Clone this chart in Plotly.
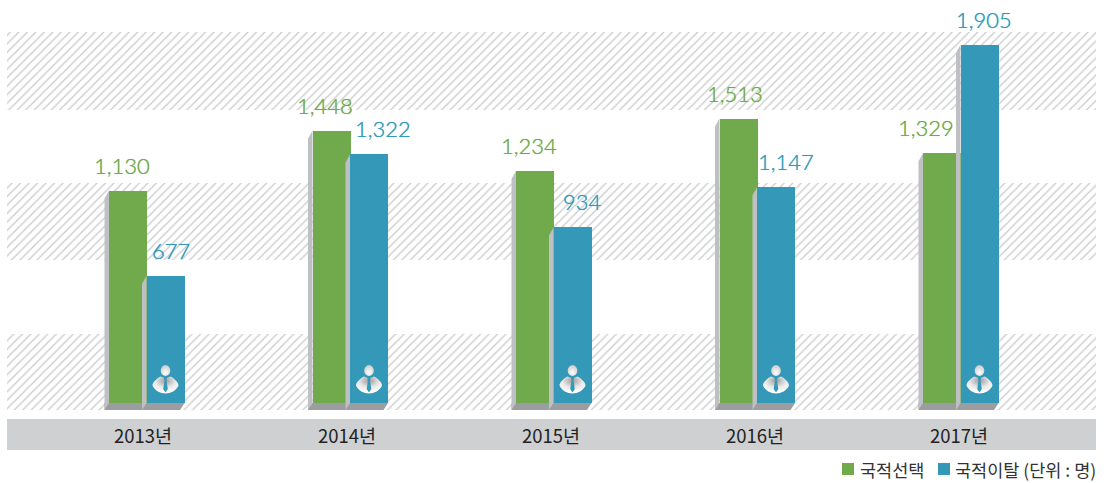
import base64
import plotly.graph_objects as go

years = ["2013년", "2014년", "2015년", "2016년", "2017년"]
selected = [1130, 1448, 1234, 1513, 1329]
renounced = [677, 1322, 934, 1147, 1905]
band_tops = [1973, 1170, 367]
band_bottoms = [1558, 761, -37]
legend_names = ["국적선택", "국적이탈 (단위 : 명)"]

GREEN, BLUE = "#70aa4c", "#3499b8"
SIDE, FLOOR = "#bfc0c4", "#9c9da1"
W, H = 1106, 483
PXX = 203.5            # pixels per category
PXY = 0.188            # pixels per person
X0 = 146.5             # pixel of first category
Y0 = 403               # pixel of zero
BOTTOM = 419           # pixel of plot bottom
idx = list(range(len(years)))
xr = [-X0 / PXX, (W - X0) / PXX]
yr = [-(BOTTOM - Y0) / PXY, Y0 / PXY]
bw = 38 / PXX
dx, dy, dc = 4.5 / PXX, 7 / PXY, 8 / PXY
tick_pos = [(143 + 204 * i - X0) / PXX for i in idx]

fig = go.Figure()
fig.add_bar(x=[2] * 3, y=[t - b for t, b in zip(band_tops, band_bottoms)], base=band_bottoms,
            width=1089 / PXX, offset=(7 - X0 - 2 * PXX) / PXX, showlegend=False, hoverinfo="skip",
            marker=dict(color="white", line_width=0,
                        pattern=dict(shape="/", size=6, solidity=0.2, fgcolor="#c8c9cb", bgcolor="white", fgopacity=1)))
fig.add_bar(x=idx, y=selected, name=legend_names[0], width=bw, offset=-37.5 / PXX,
            marker=dict(color=GREEN, line_width=0), showlegend=False)
fig.add_bar(x=idx, y=renounced, name=legend_names[1], width=bw, offset=0 / PXX,
            marker=dict(color=BLUE, line_width=0), showlegend=False)

def polys(values, off):
    sx, sy, fx, fy = [], [], [], []
    for i, v in zip(idx, values):
        l = i + off
        r = l + bw
        sx += [l, l - dx, l - dx, l, None]
        sy += [v, v - dc, -dy, 0, None]
        fx += [l - dx, r, r - dx, l - dx, None]
        fy += [0, 0, -dy, -dy, None]
    return sx, sy, fx, fy

for vals, off in ((selected, -37.5 / PXX), (renounced, 0 / PXX)):
    sx, sy, fx, fy = polys(vals, off)
    for px, py_, col in ((fx, fy, FLOOR), (sx, sy, SIDE)):
        fig.add_scatter(x=px, y=py_, mode="none", fill="toself", fillcolor=col,
                        showlegend=False, hoverinfo="skip")

svg = f'''<svg xmlns="http://www.w3.org/2000/svg" width="28" height="32" viewBox="0 0 28 32">
<defs><radialGradient id="g" cx="50%" cy="25%" r="70%"><stop offset="0" stop-color="#9b9b9b"/>
<stop offset="0.55" stop-color="#e8e8e8"/><stop offset="1" stop-color="#ffffff"/></radialGradient>
<radialGradient id="h" cx="50%" cy="70%" r="70%"><stop offset="0" stop-color="#ffffff"/><stop offset="1" stop-color="#c9c9c9"/></radialGradient></defs>
<ellipse cx="14" cy="6" rx="4.8" ry="5.4" fill="url(#h)"/>
<path d="M9 12 C5 14 1 18 1 21 C3 26 9 29 14 29 C19 29 25 26 27 21 C27 18 23 14 19 12 L14 14 Z" fill="url(#g)"/>
<path d="M12.3 13 L15.7 13 L15 16 L16.3 24.5 L14 28 L11.7 24.5 L13 16 Z" fill="{BLUE}"/></svg>'''
src = "data:image/svg+xml;base64," + base64.b64encode(svg.encode()).decode()
images = [dict(source=src, xref="x", yref="y", x=i + 19 / PXX, y=22.5 / PXY, sizex=28 / PXX, sizey=32 / PXY,
               xanchor="center", yanchor="middle", layer="above", sizing="stretch") for i in idx]

nudge_sel = [-6, -7, -6, -4, -16]
nudge_ren = [6, 14, 10, 10, 5]
ann = []
for series, nudge, off, col in ((selected, nudge_sel, -18.5, GREEN), (renounced, nudge_ren, 18.5, BLUE)):
    for i, v, n in zip(idx, series, nudge):
        ann.append(dict(x=i, y=v, xref="x", yref="y", text=f"{v:,}", showarrow=False,
                        xshift=off + n, yshift=25.5, xanchor="center", yanchor="middle",
                        font=dict(family="Lato Light, Lato, sans-serif", size=22, color=col,
                                  shadow=f"0 0 0.7px {col}")))

def py(p):
    return (BOTTOM - p) / BOTTOM

def pxp(p):
    return p / W

shapes = [dict(type="rect", xref="paper", yref="paper", x0=pxp(7), x1=pxp(1096),
               y0=py(450), y1=py(419), fillcolor="#cfd0d2", line_width=0, layer="below")]
for name, col, sx0, sx1, tx in ((legend_names[0], GREEN, 842, 854, 860), (legend_names[1], BLUE, 938, 950, 955)):
    shapes.append(dict(type="rect", xref="paper", yref="paper", x0=pxp(sx0), x1=pxp(sx1),
                       y0=py(475), y1=py(463), fillcolor=col, line_width=0))
    ann.append(dict(xref="paper", yref="paper", x=pxp(tx), y=py(469), text=name, showarrow=False,
                    xanchor="left", yanchor="middle", xshift=-2,
                    font=dict(family="Noto Sans CJK KR", size=17.5, color="#333333")))

fig.update_layout(
    width=W, height=H, autosize=False, barmode="overlay", bargap=0,
    margin=dict(l=0, r=0, t=0, b=H - BOTTOM), paper_bgcolor="white", plot_bgcolor="white",
    xaxis=dict(range=xr, tickmode="array", tickvals=tick_pos, ticktext=years, showgrid=False, zeroline=False,
               showline=False, ticks="", ticklabelstandoff=4,
               tickfont=dict(family="Noto Sans CJK KR", size=18.5, color="#222222"), fixedrange=True),
    yaxis=dict(range=yr, visible=False, showgrid=False, zeroline=False, fixedrange=True),
    shapes=shapes, images=images, annotations=ann, showlegend=False,
)
fig.write_html("out.html", config=dict(responsive=False, displayModeBar=False),
               post_script="document.body.style.margin='0';document.body.style.overflow='hidden';")
